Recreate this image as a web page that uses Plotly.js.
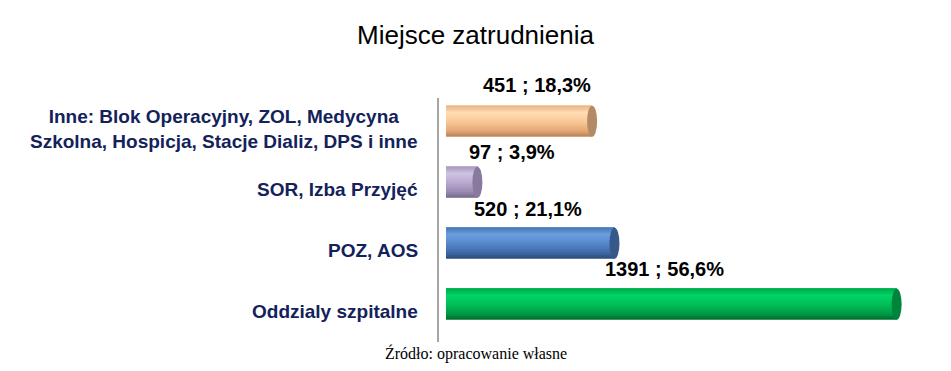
<!DOCTYPE html>
<html>
<head>
<meta charset="utf-8">
<script src="https://cdn.plot.ly/plotly-3.0.1.min.js"></script>
<style>
  html, body { margin: 0; padding: 0; background: #ffffff; }
  #chart { width: 951px; height: 371px; }
</style>
</head>
<body>
<div id="chart"></div>
<script>
// Workplace categories, listed bottom to top as they appear on the axis
const categories = [
  "Oddzialy szpitalne",
  "POZ, AOS",
  "SOR, Izba Przyjęć",
  "Inne: Blok Operacyjny, ZOL, Medycyna<br>Szkolna, Hospicja, Stacje Dializ, DPS i inne"
];
// Number of respondents per workplace
const counts = [1391, 520, 97, 451];

const chartTitle = "Miejsce zatrudnienia";
const sourceNote = "Źródło: opracowanie własne";

// ---- styling ----
// cylinder shading stops (top edge, highlight, body, lower shade, bottom edge) per category
const shading = [
  ["#00a84a", "#00d466", "#00bf58", "#009a45", "#006a2e"], // green
  ["#4a78b4", "#6b9ee0", "#5589cc", "#3e6aa6", "#2a4a78"], // blue
  ["#a898bf", "#cfc2e2", "#b9aad0", "#9a8bb3", "#756889"], // purple
  ["#e8b486", "#ffdcb4", "#fbc898", "#e3aa78", "#b98354"]  // orange
];
const capColors = ["#00843c", "#37598a", "#877a9e", "#b48a66"];

const total = counts.reduce((a, b) => a + b, 0);
const fmtPct = v => (Math.round(v / total * 1000) / 10).toFixed(1).replace(".", ",") + "%";
const labels = counts.map(v => v + " ; " + fmtPct(v));

const barWidth = 0.508;      // thickness in category units
const barLift = 0.118;       // bars sit slightly above the category centre
const barOffset = barLift - barWidth / 2;
const bands = 16;

function hexToRgb(h) {
  return [1, 3, 5].map(i => parseInt(h.slice(i, i + 2), 16));
}
function mix(a, b, t) {
  const ca = hexToRgb(a), cb = hexToRgb(b);
  return "rgb(" + ca.map((c, i) => Math.round(c + (cb[i] - c) * t)).join(",") + ")";
}
const stopPos = [0, 0.22, 0.5, 0.8, 1];
function shadeAt(stops, t) {
  for (let k = 0; k < stopPos.length - 1; k++) {
    if (t <= stopPos[k + 1]) {
      const f = (t - stopPos[k]) / (stopPos[k + 1] - stopPos[k]);
      return mix(stops[k], stops[k + 1], f);
    }
  }
  return stops[stops.length - 1];
}

// Nested bars: each layer reaches from its band up to the top of the bar,
// drawn bottom first, so the stack shades a cylinder without seams
const traces = [];
const bandH = barWidth / bands;
for (let b = 0; b < bands; b++) {
  const t = 1 - (b + 0.5) / bands;   // b = 0 is the bottom band
  traces.push({
    type: "bar",
    orientation: "h",
    x: counts,
    y: categories,
    width: barWidth - b * bandH,
    offset: barOffset + b * bandH,
    marker: { color: categories.map((_, i) => shadeAt(shading[i], t)), line: { width: 0 } },
    hoverinfo: "skip",
    showlegend: false
  });
}

// End caps of the cylinders
const shapes = counts.map((v, i) => ({
  type: "circle",
  xref: "x", yref: "y",
  xsizemode: "pixel",
  xanchor: v,
  x0: -5, x1: 5,
  y0: i + barOffset, y1: i + barOffset + barWidth,
  fillcolor: capColors[i],
  line: { width: 0 },
  layer: "above"
}));

// Value labels above each bar
const labelShiftX = [-7, -2, 50, 18];
const labelShiftY = [43, 42, 38, 44];
const annotations = counts.map((v, i) => ({
  xref: "x", yref: "y",
  x: v / 2, y: categories[i],
  xshift: labelShiftX[i], yshift: labelShiftY[i],
  text: labels[i],
  showarrow: false,
  xanchor: "center", yanchor: "middle",
  font: { family: "Liberation Sans, Arial, sans-serif", size: 20, color: "#000000", weight: "bold" }
}));

// Category labels, centred line by line and right-aligned to the axis
categories.forEach((c, i) => annotations.push({
  xref: "paper", yref: "y",
  x: 0, y: c,
  xshift: -19,
  text: c,
  showarrow: false,
  xanchor: "right", yanchor: "middle",
  align: "center",
  font: { family: "Liberation Sans, Arial, sans-serif", size: 19, color: "#13225a", weight: "bold" }
}));

// Source note
annotations.push({
  xref: "paper", yref: "paper",
  x: 0.075, y: 0,
  yshift: -11,
  text: sourceNote,
  showarrow: false,
  xanchor: "center", yanchor: "middle",
  font: { family: "Liberation Serif, Times New Roman, serif", size: 16, color: "#000000" }
});

const layout = {
  width: 951,
  height: 371,
  margin: { l: 439, r: 21, t: 98, b: 29 },
  paper_bgcolor: "#ffffff",
  plot_bgcolor: "#ffffff",
  barmode: "overlay",
  title: {
    text: chartTitle,
    x: 0.5, xref: "container", xanchor: "center",
    y: 0.905, yref: "container", yanchor: "middle",
    font: { family: "Liberation Sans, Arial, sans-serif", size: 26, color: "#000000" }
  },
  xaxis: {
    range: [-21.6, 1494],
    visible: false,
    fixedrange: true
  },
  yaxis: {
    type: "category",
    categoryorder: "array",
    categoryarray: categories,
    range: [-0.5, 3.5],
    showticklabels: false,
    ticks: "",
    showgrid: false,
    zeroline: false,
    showline: true,
    linecolor: "#a6a6a6",
    linewidth: 2,
    fixedrange: true
  },
  shapes: shapes,
  annotations: annotations,
  showlegend: false
};

Plotly.newPlot("chart", traces, layout, { displayModeBar: false, staticPlot: true });
</script>
</body>
</html>
